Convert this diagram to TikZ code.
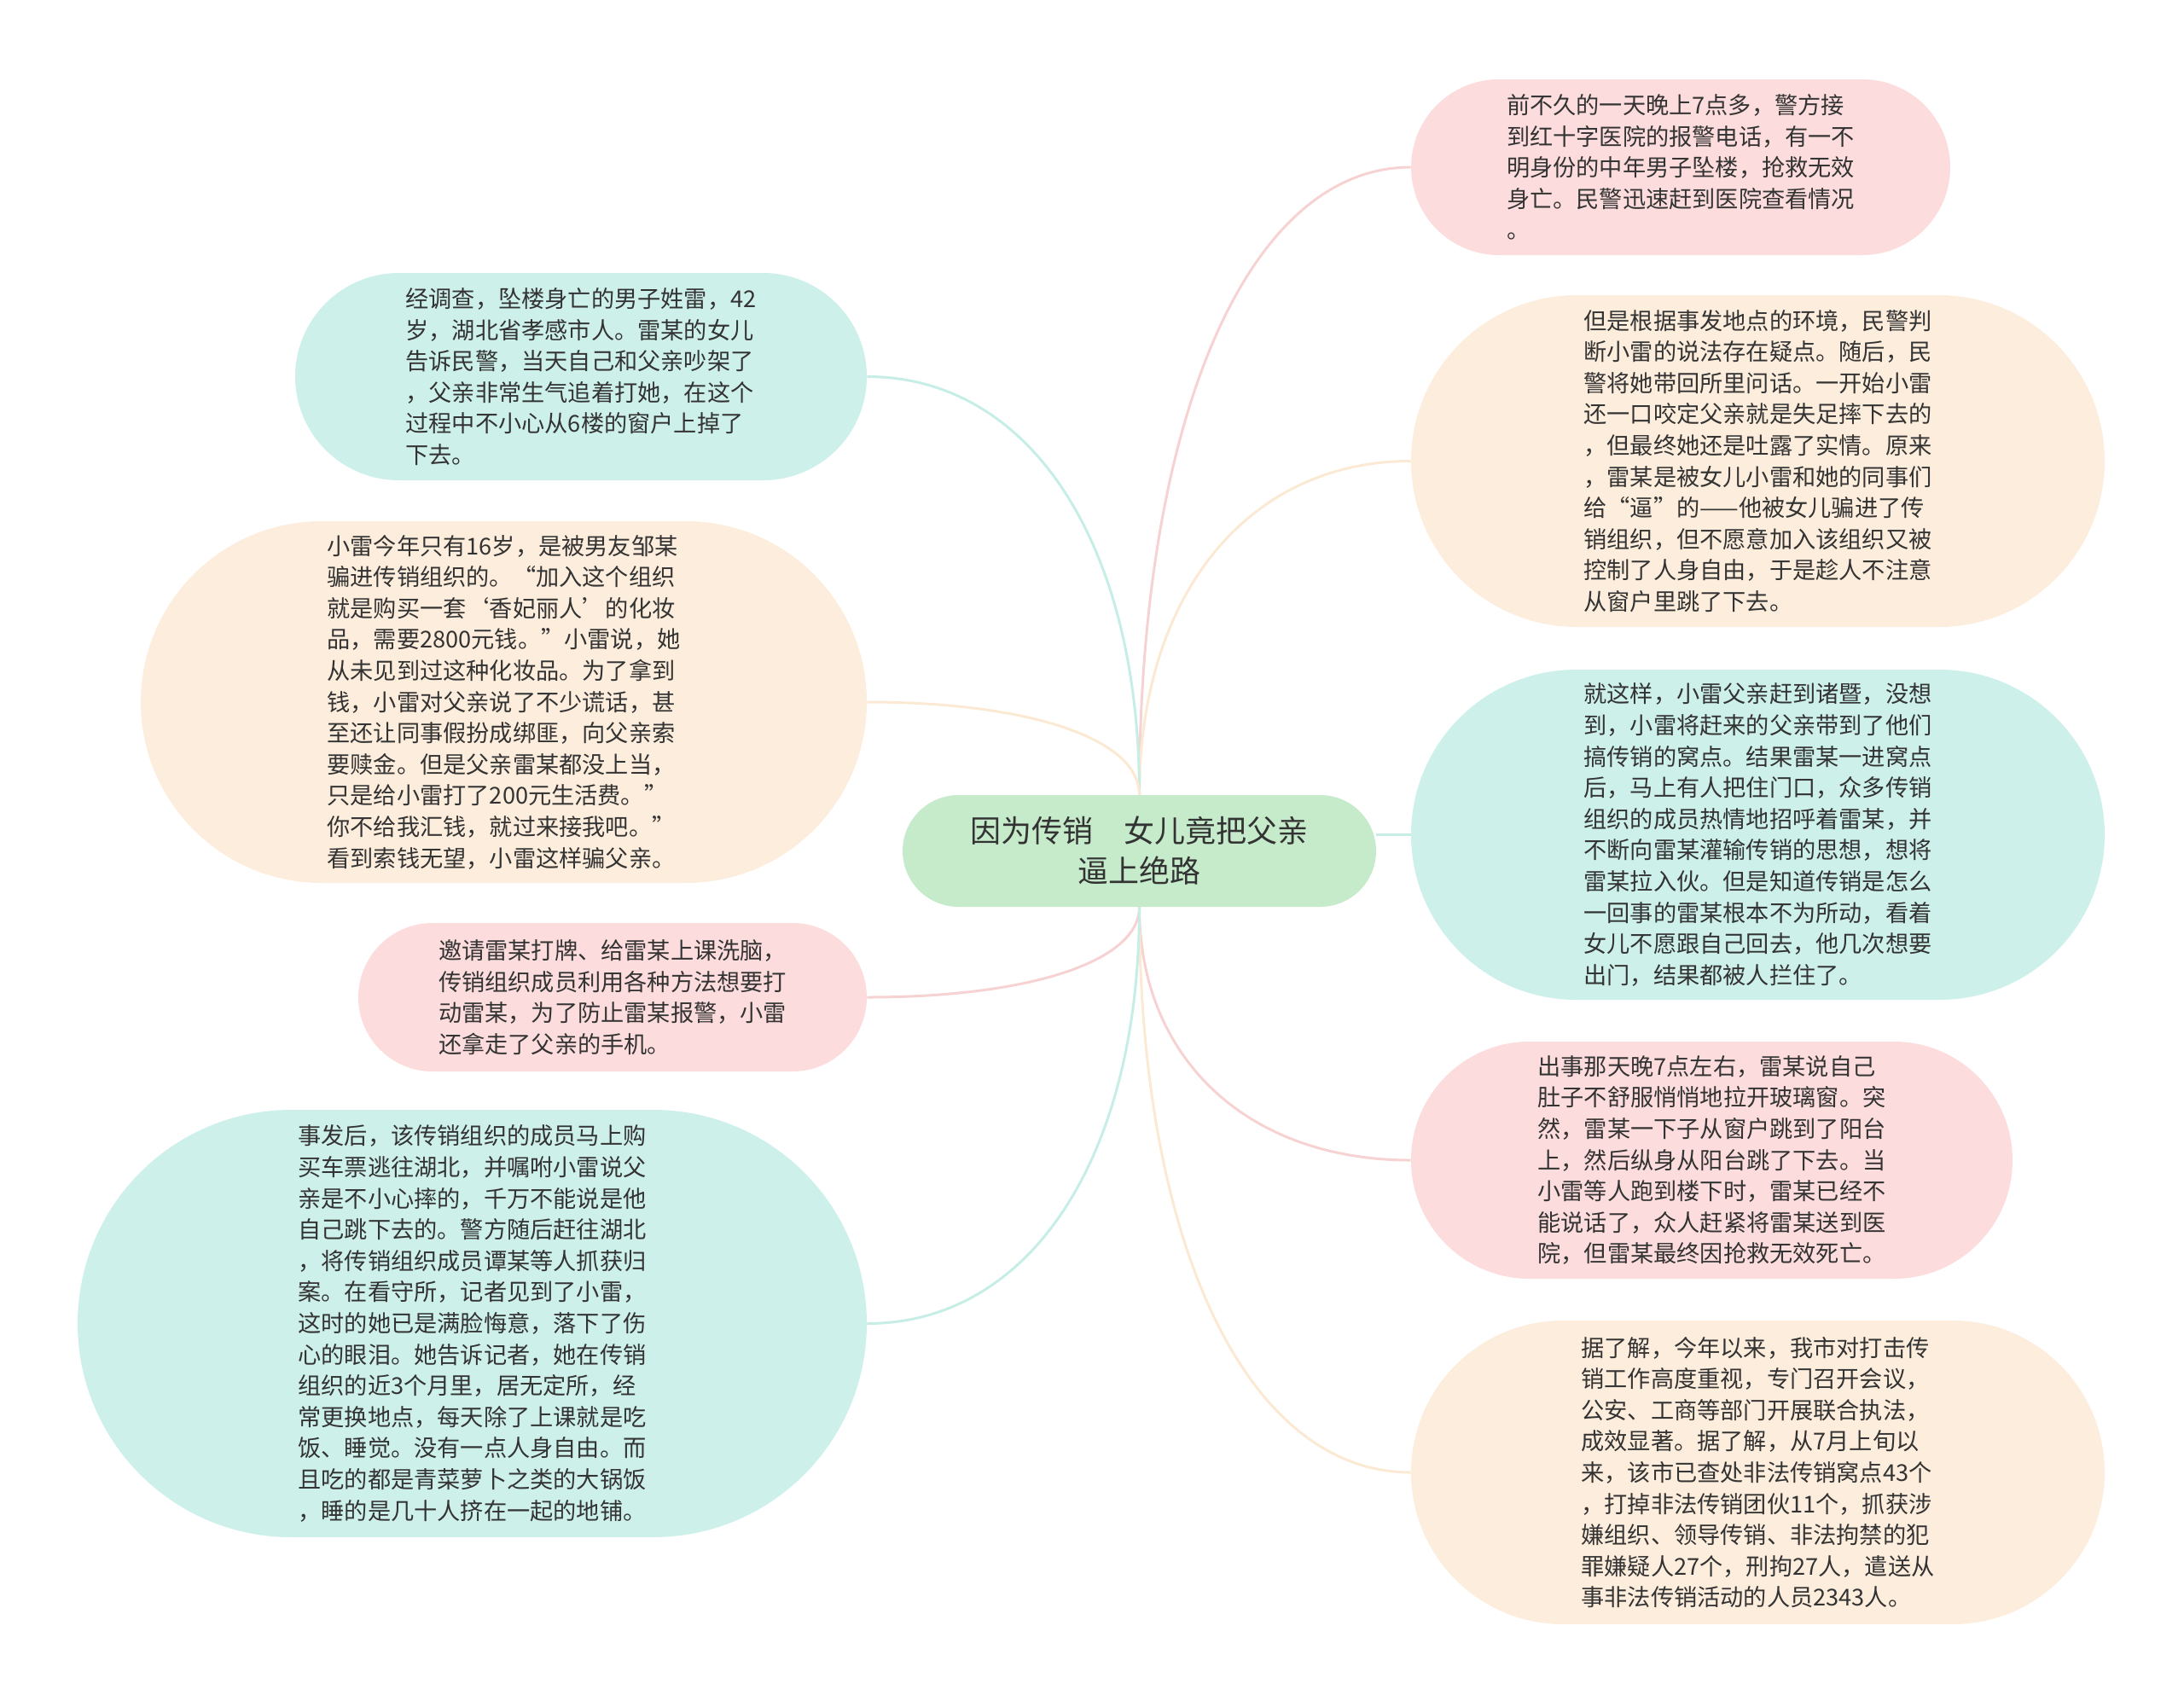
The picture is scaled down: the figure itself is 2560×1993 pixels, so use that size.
\documentclass[tikz,border=0pt]{standalone}
\usepackage{fontspec}
\setmainfont{Noto Sans CJK SC}
\usepackage{tikz}
\usetikzlibrary{shapes.misc, calc, backgrounds}
\definecolor{mmPink}{HTML}{FCDCDC}
\definecolor{mmPeach}{HTML}{FDEDDC}
\definecolor{mmCyan}{HTML}{CDF0EA}
\definecolor{mmRoot}{HTML}{C6EBCB}
\definecolor{mmPinkLine}{HTML}{F6D2D2}
\definecolor{mmPeachLine}{HTML}{FCE9D4}
\definecolor{mmCyanLine}{HTML}{C6EDE6}
\definecolor{mmText}{HTML}{333333}
\tikzset{
    mmLeafBase/.style={
        rounded rectangle,
        inner sep=0pt,
        align=left,
        text=mmText,
        font=\fontsize{13.6}{18.3}\selectfont
    },
    % Colour variants
    pinkLeaf/.style={mmLeafBase, fill=mmPink},
    peachLeaf/.style={mmLeafBase, fill=mmPeach},
    cyanLeaf/.style={mmLeafBase, fill=mmCyan},
    rootNode/.style={
        rounded rectangle,
        inner sep=0pt,
        fill=mmRoot,
        align=center,
        text=mmText,
        font=\fontsize{18}{23.5}\selectfont
    },
    % Connectors
    branch/.style={line width=1.5pt}
}

\begin{document}
\begin{tikzpicture}[x=0.5pt, y=-0.5pt]
\useasboundingbox (0, 0) rectangle (2560, 1993);

% --- Root ---
\node[rootNode, minimum width=277.5pt, minimum height=65.5pt] (root) at (1335.5, 997.5)
    {因为传销　女儿竟把父亲\\逼上绝路};

% --- Right side ---
\node[pinkLeaf, minimum width=316pt, minimum height=103pt] (r1) at (1970, 196) {%
前不久的一天晚上7点多，警方接\\
到红十字医院的报警电话，有一不\\
明身份的中年男子坠楼，抢救无效\\
身亡。民警迅速赶到医院查看情况\\
。};

\node[peachLeaf, minimum width=406.5pt, minimum height=194.5pt] (r2) at (2060.5, 540.5) {%
但是根据事发地点的环境，民警判\\
断小雷的说法存在疑点。随后，民\\
警将她带回所里问话。一开始小雷\\
还一口咬定父亲就是失足摔下去的\\
，但最终她还是吐露了实情。原来\\
，雷某是被女儿小雷和她的同事们\\
给“逼”的——他被女儿骗进了传\\
销组织，但不愿意加入该组织又被\\
控制了人身自由，于是趁人不注意\\
从窗户里跳了下去。};

\node[cyanLeaf, minimum width=406.5pt, minimum height=193.5pt] (r3) at (2060.5, 978.5) {%
就这样，小雷父亲赶到诸暨，没想\\
到，小雷将赶来的父亲带到了他们\\
搞传销的窝点。结果雷某一进窝点\\
后，马上有人把住门口，众多传销\\
组织的成员热情地招呼着雷某，并\\
不断向雷某灌输传销的思想，想将\\
雷某拉入伙。但是知道传销是怎么\\
一回事的雷某根本不为所动，看着\\
女儿不愿跟自己回去，他几次想要\\
出门，结果都被人拦住了。};

\node[pinkLeaf, minimum width=352.5pt, minimum height=139pt] (r4) at (2006.5, 1360) {%
出事那天晚7点左右，雷某说自己\\
肚子不舒服悄悄地拉开玻璃窗。突\\
然，雷某一下子从窗户跳到了阳台\\
上，然后纵身从阳台跳了下去。当\\
小雷等人跑到楼下时，雷某已经不\\
能说话了，众人赶紧将雷某送到医\\
院，但雷某最终因抢救无效死亡。};

\node[peachLeaf, minimum width=406.5pt, minimum height=178pt] (r5) at (2060.5, 1726) {%
据了解，今年以来，我市对打击传\\
销工作高度重视，专门召开会议，\\
公安、工商等部门开展联合执法，\\
成效显著。据了解，从7月上旬以\\
来，该市已查处非法传销窝点43个\\
，打掉非法传销团伙11个，抓获涉\\
嫌组织、领导传销、非法拘禁的犯\\
罪嫌疑人27个，刑拘27人，遣送从\\
事非法传销活动的人员2343人。};

% --- Left side ---
\node[cyanLeaf, minimum width=335pt, minimum height=121.5pt] (l1) at (681, 441.5) {%
经调查，坠楼身亡的男子姓雷，42\\
岁，湖北省孝感市人。雷某的女儿\\
告诉民警，当天自己和父亲吵架了\\
，父亲非常生气追着打她，在这个\\
过程中不小心从6楼的窗户上掉了\\
下去。};

\node[peachLeaf, minimum width=425.5pt, minimum height=212pt] (l2) at (590.5, 823) {%
小雷今年只有16岁，是被男友邹某\\
骗进传销组织的。“加入这个组织\\
就是购买一套‘香妃丽人’的化妆\\
品，需要2800元钱。”小雷说，她\\
从未见到过这种化妆品。为了拿到\\
钱，小雷对父亲说了不少谎话，甚\\
至还让同事假扮成绑匪，向父亲索\\
要赎金。但是父亲雷某都没上当，\\
只是给小雷打了200元生活费。”\\
你不给我汇钱，就过来接我吧。”\\
看到索钱无望，小雷这样骗父亲。};

\node[pinkLeaf, minimum width=298pt, minimum height=87pt] (l3) at (718, 1169) {%
邀请雷某打牌、给雷某上课洗脑，\\
传销组织成员利用各种方法想要打\\
动雷某，为了防止雷某报警，小雷\\
还拿走了父亲的手机。};

\node[cyanLeaf, minimum width=462.5pt, minimum height=250.5pt] (l4) at (553.5, 1551.5) {%
事发后，该传销组织的成员马上购\\
买车票逃往湖北，并嘱咐小雷说父\\
亲是不小心摔的，千万不能说是他\\
自己跳下去的。警方随后赶往湖北\\
，将传销组织成员谭某等人抓获归\\
案。在看守所，记者见到了小雷，\\
这时的她已是满脸悔意，落下了伤\\
心的眼泪。她告诉记者，她在传销\\
组织的近3个月里，居无定所，经\\
常更换地点，每天除了上课就是吃\\
饭、睡觉。没有一点人身自由。而\\
且吃的都是青菜萝卜之类的大锅饭\\
，睡的是几十人挤在一起的地铺。};

% --- Branches ---
\begin{scope}[on background layer]
\foreach \leaf/\from/\to/\col in {
    r1/north/west/mmPinkLine,
    r2/north/west/mmPeachLine,
    r4/south/west/mmPinkLine,
    r5/south/west/mmPeachLine,
    l1/north/east/mmCyanLine,
    l2/north/east/mmPeachLine,
    l3/south/east/mmPinkLine,
    l4/south/east/mmCyanLine}{
    \draw[branch, draw=\col] (root.\from)
        .. controls ($(root.\from)!0.6!(root.\from |- \leaf.\to)$)
        and ($(\leaf.\to)!0.6!(root.\from |- \leaf.\to)$) .. (\leaf.\to);
}
% Level branch
\draw[branch, draw=mmCyanLine] (r3.west -| root.east) -- (r3.west);
\end{scope}

\end{tikzpicture}
\end{document}
